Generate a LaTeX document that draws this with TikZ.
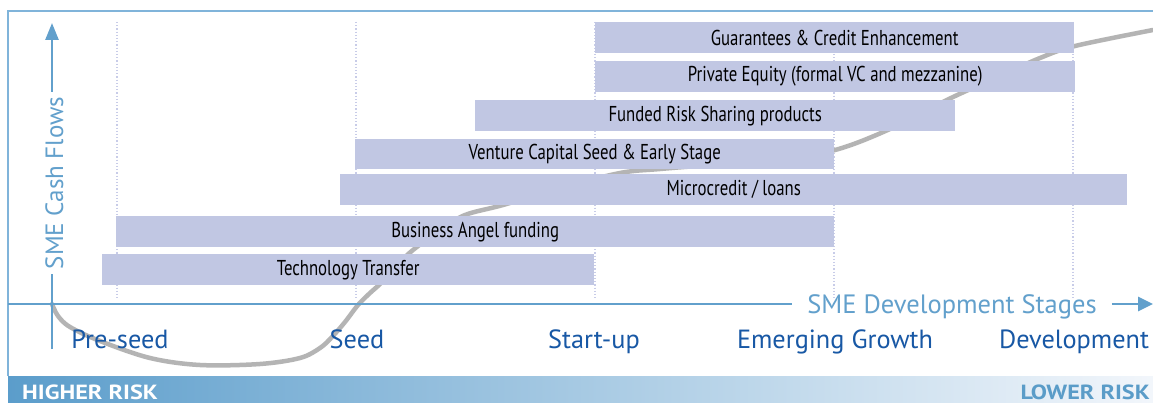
\documentclass[tikz,border=0pt]{standalone}
\usepackage{fontspec}
\setmainfont{PT Sans}
\newfontfamily\barfont[FakeStretch=0.78]{PT Sans}
\newfontfamily\riskfont[FakeStretch=1.18]{PT Sans}
\usetikzlibrary{arrows.meta}
\definecolor{barcol}{RGB}{193,199,227}
\definecolor{axiscol}{RGB}{98,160,204}
\definecolor{framecol}{RGB}{128,180,218}
\definecolor{stagecol}{RGB}{24,88,165}
\definecolor{curvecol}{RGB}{180,180,180}
\definecolor{dotcol}{RGB}{200,204,232}
\definecolor{bandL}{RGB}{91,157,203}
\definecolor{bandR}{RGB}{242,246,251}
\definecolor{lowcol}{RGB}{90,156,200}
\begin{document}
\begin{tikzpicture}[x=1pt,y=-1pt,
  bar/.style={fill=barcol, draw=none, anchor=north west, minimum height=31pt, inner sep=0pt, text=black, font=\barfont\fontsize{21.5}{24}\selectfont},
  axisline/.style={draw=axiscol, line width=2.6pt},
  framel/.style={draw=framecol, line width=2pt},
  dotl/.style={draw=dotcol, line width=1.2pt, dotted},
  stage/.style={anchor=base, text=stagecol, font=\fontsize{26.3}{30}\selectfont, inner sep=0pt},
  axlab/.style={text=axiscol, font=\fontsize{25}{30}\selectfont},
  curve/.style={draw=curvecol, line width=4.5pt},
  risk/.style={font=\riskfont\bfseries\fontsize{20.5}{24}\selectfont, inner sep=0pt}]
\useasboundingbox (0,0) rectangle (1153,403);
\fill[white] (0,0) rectangle (1153,403);
% bottom band
\shade[left color=bandL, right color=bandR] (8,376) rectangle (1153,403);
\node[risk, anchor=base west, text=white] (hr) at (22,399) {HIGHER RISK};
\node[risk, anchor=base east, text=lowcol] (lr) at (1150,399) {LOWER RISK};
% frame
\draw[framel] (8,376) -- (8,11) -- (1153,11);
% dotted stage lines
\foreach \x/\n in {117/d1,356/d2,595/d3,834/d4,1073/d5}{
  \coordinate (\n t) at (\x,22);
  \coordinate (\n b) at (\x,300);
  \draw[dotl] (\n t) -- (\n b);
}
% curve
\draw[curve, line cap=round] plot[smooth, tension=0.55] coordinates {
 (52,304) (58,316) (70,327) (100,341) (150,358) (200,365) (260,364) (300,358)
 (320,348) (332,337) (345,322) (358,305) (370,293) (381,283) (397,265) (413,250)
 (440,230) (465,215) (503,205) (560,188) (620,173) (660,169) (720,164) (780,158)
 (835,150) (890,129) (951,98) (1000,76) (1040,58) (1075,46) (1153,30)};
% bars
\node[bar, minimum width=479pt] (b1) at (595,22) {Guarantees \& Credit Enhancement};
\node[bar, minimum width=480pt] (b2) at (595,61) {Private Equity (formal VC and mezzanine)};
\node[bar, minimum width=480pt] (b3) at (475,100) {Funded Risk Sharing products};
\node[bar, minimum width=479pt, minimum height=30pt] (b4) at (355,139) {Venture Capital Seed \& Early Stage};
\node[bar, minimum width=787pt] (b5) at (340,174) {Microcredit / loans};
\node[bar, minimum width=718pt] (b6) at (116,216) {Business Angel funding};
\node[bar, minimum width=492pt] (b7) at (102,254) {Technology Transfer};
% axes
\coordinate (O) at (52,304);
\coordinate (ybot) at (52,349);
\coordinate (ytop) at (52,23);
\coordinate (xleft) at (8,304);
\coordinate (xtip) at (1153,304);
\node[axlab, rotate=90, anchor=base, inner xsep=5pt, inner ysep=0pt] (ylab) at (63,183) {SME Cash Flows};
\draw[axisline] (ybot) -- (ylab.west -| ybot);
\draw[axisline, -{Triangle[length=17pt,width=13pt]}] (ylab.east -| ybot) -- (ytop);
\node[axlab, anchor=base, inner xsep=15pt, inner ysep=0pt, font=\fontsize{26.5}{30}\selectfont] (xlab) at (952,313) {SME Development Stages};
\draw[axisline] (xleft) -- (xlab.west |- xleft);
\draw[axisline, -{Triangle[length=15pt,width=14pt]}] (xlab.east |- xleft) -- (xtip);
% stage labels
\node[stage] (s1) at (120,348) {Pre-seed};
\node[stage] (s2) at (357,348) {Seed};
\node[stage] (s3) at (594,348) {Start-up};
\node[stage] (s4) at (835,348) {Emerging Growth};
\node[stage] (s5) at (1074,348) {Development};
\end{tikzpicture}
\end{document}
